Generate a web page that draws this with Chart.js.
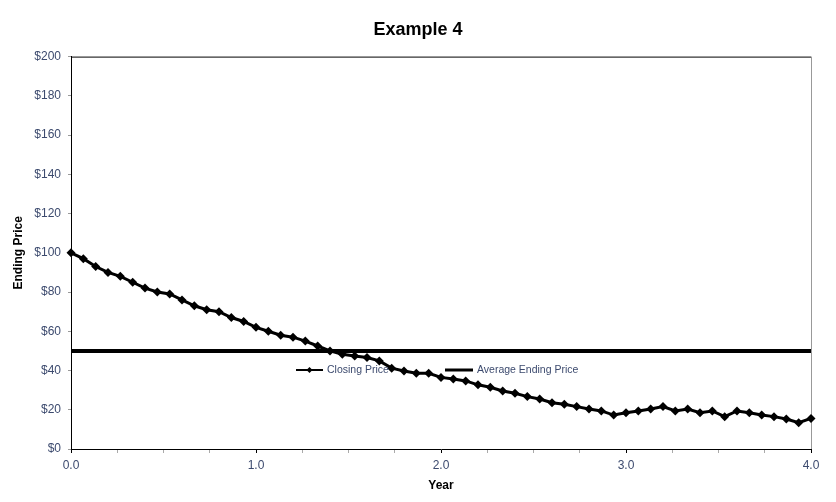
<!DOCTYPE html>
<html>
<head>
<meta charset="utf-8">
<title>Example 4</title>
<script src="https://cdn.jsdelivr.net/npm/chart.js@4/dist/chart.umd.min.js"></script>
<style>
  body { margin: 0; background: #fff; }
  #chart { display: block; }
</style>
</head>
<body>
<canvas id="chart" width="836" height="502"></canvas>
<script>

// closing price, one reading every 1/15 of a year from 0.0 to 4.0
var stepsPerYear = 15;
var closingPrice = [
  100, 97, 93, 90, 88, 85, 82, 80, 79, 76,
  73, 71, 70, 67, 65, 62, 60, 58, 57, 55,
  52.5, 50, 48.3, 47.4, 46.6, 44.9, 41.2, 39.8, 38.6, 38.6,
  36.5, 35.7, 34.7, 32.7, 31.5, 29.6, 28.4, 26.7, 25.5, 23.6,
  22.8, 21.6, 20.4, 19.4, 17.3, 18.5, 19.4, 20.4, 21.6, 19.4,
  20.4, 18.5, 19.4, 16.5, 19.4, 18.5, 17.3, 16.5, 15.3, 13.4,
  15.6
];
var averageYears = [0, 4];
var averagePrice = [50, 50];

var yTicks = [0, 20, 40, 60, 80, 100, 120, 140, 160, 180, 200];
var xLabelYears = [0, 1, 2, 3, 4];

var seriesNames = ['Closing Price', 'Average Ending Price'];

var fontFamily = '"Liberation Sans", Arial, sans-serif';
var labelColor = '#3c4a6e';

var closingPoints = [];
for (var i = 0; i < closingPrice.length; i++) {
    closingPoints.push({ x: i / stepsPerYear, y: closingPrice[i] });
}
var averagePoints = [];
for (var j = 0; j < averageYears.length; j++) {
    averagePoints.push({ x: averageYears[j], y: averagePrice[j] });
}

// frame on the top and right of the plot
var framePlugin = {
    id: 'frame',
    beforeDatasetsDraw: function(chart) {
        var a = chart.chartArea;
        var ctx = chart.ctx;
        ctx.save();
        ctx.lineWidth = 1;
        ctx.strokeStyle = '#000';
        ctx.beginPath();
        ctx.moveTo(a.left, a.top + 0.5);
        ctx.lineTo(a.right, a.top + 0.5);
        ctx.stroke();
        ctx.strokeStyle = '#999';
        ctx.beginPath();
        ctx.moveTo(a.right + 0.5, a.top);
        ctx.lineTo(a.right + 0.5, a.bottom);
        ctx.stroke();
        ctx.restore();
    }
};

// legend sits inside the plot, under the average line
var legendPlugin = {
    id: 'innerLegend',
    afterDraw: function(chart) {
        var ctx = chart.ctx;
        var y = 370;
        var items = [
            { x: 296, w: 27, width: 2, marker: true },
            { x: 445, w: 28, width: 3, marker: false }
        ];
        ctx.save();
        ctx.font = '10.5px ' + fontFamily;
        ctx.textBaseline = 'middle';
        ctx.textAlign = 'left';
        for (var k = 0; k < items.length; k++) {
            var it = items[k];
            ctx.strokeStyle = '#000';
            ctx.lineWidth = it.width;
            ctx.beginPath();
            ctx.moveTo(it.x, y);
            ctx.lineTo(it.x + it.w, y);
            ctx.stroke();
            if (it.marker) {
                var cx = it.x + it.w / 2;
                ctx.fillStyle = '#000';
                ctx.beginPath();
                ctx.moveTo(cx, y - 3);
                ctx.lineTo(cx + 3, y);
                ctx.lineTo(cx, y + 3);
                ctx.lineTo(cx - 3, y);
                ctx.closePath();
                ctx.fill();
            }
            ctx.fillStyle = labelColor;
            ctx.fillText(chart.data.datasets[k].label, it.x + it.w + 4, y);
        }
        ctx.restore();
    }
};

var ctxC = document.getElementById('chart').getContext('2d');
var priceChart = new Chart(ctxC, {
    type: 'line',
    data: {
        datasets: [
            {
                label: seriesNames[0],
                data: closingPoints,
                borderColor: '#000',
                backgroundColor: '#000',
                borderWidth: 3,
                pointStyle: 'rectRot',
                pointRadius: 4.5,
                pointBorderWidth: 0,
                pointBackgroundColor: '#000',
                tension: 0,
                clip: false
            },
            {
                label: seriesNames[1],
                data: averagePoints,
                borderColor: '#000',
                borderWidth: 4,
                pointRadius: 0,
                tension: 0
            }
        ]
    },
    options: {
        responsive: false,
        animation: false,
        events: [],
        layout: { padding: { left: 0, right: 0, top: 0, bottom: 0 } },
        plugins: {
            legend: { display: false },
            tooltip: { enabled: false },
            title: {
                display: true,
                text: 'Example 4',
                color: '#000',
                font: { family: fontFamily, size: 18, weight: 'bold' },
                padding: { top: 19, bottom: 16 }
            }
        },
        scales: {
            x: {
                type: 'linear',
                min: 0,
                max: 4,
                afterFit: function(scale) { scale.height = 53; },
                border: { color: '#000', width: 1 },
                grid: {
                    drawOnChartArea: false,
                    tickLength: 4,
                    tickColor: function(c) {
                        return xLabelYears.indexOf(c.tick.value) >= 0 ? '#000' : '#aaa';
                    }
                },
                ticks: {
                    stepSize: 0.25,
                    autoSkip: false,
                    maxRotation: 0,
                    padding: 5,
                    color: labelColor,
                    font: { family: fontFamily, size: 12 },
                    callback: function(v) {
                        return xLabelYears.indexOf(v) >= 0 ? v.toFixed(1) : '';
                    }
                },
                title: {
                    display: true,
                    text: 'Year',
                    color: '#000',
                    font: { family: fontFamily, size: 12, weight: 'bold' },
                    padding: { top: 0, bottom: 9 }
                }
            },
            y: {
                min: yTicks[0],
                max: yTicks[yTicks.length - 1],
                afterFit: function(scale) { scale.width = 71; },
                afterBuildTicks: function(scale) {
                    scale.ticks = yTicks.map(function(v) { return { value: v }; });
                },
                border: { color: '#000', width: 1 },
                grid: { drawOnChartArea: false, tickLength: 3, tickColor: '#999' },
                ticks: {
                    padding: 7,
                    color: labelColor,
                    font: { family: fontFamily, size: 12 },
                    callback: function(v) { return '$' + v; }
                },
                title: {
                    display: true,
                    text: 'Ending Price',
                    color: '#000',
                    font: { family: fontFamily, size: 12, weight: 'bold' },
                    padding: { top: 11, bottom: 0 }
                }
            },
            yRight: {
                position: 'right',
                afterFit: function(scale) { scale.width = 25; },
                border: { display: false },
                grid: { display: false },
                ticks: { display: false }
            }
        }
    },
    plugins: [framePlugin, legendPlugin]
});
</script>
</body>
</html>
